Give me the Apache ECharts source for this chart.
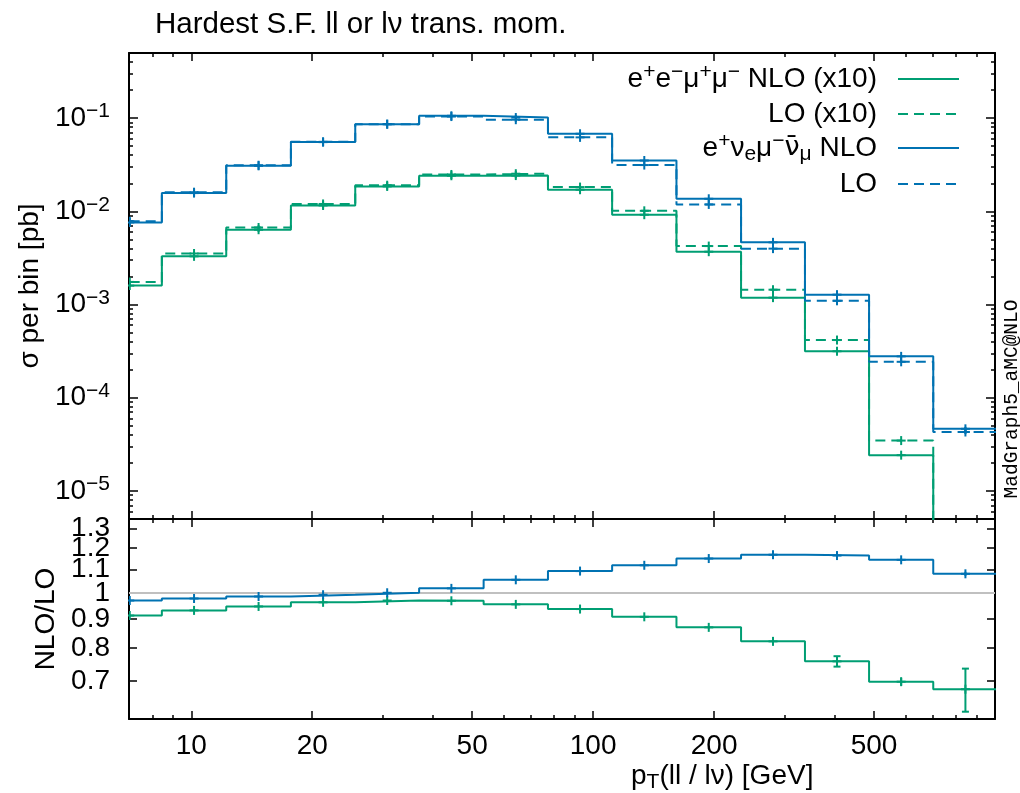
<!DOCTYPE html>
<html>
<head>
<meta charset="utf-8">
<title>Hardest S.F. ll or lν trans. mom.</title>
<script src="https://cdn.jsdelivr.net/npm/echarts@6/dist/echarts.min.js"></script>
<style>
  html, body { margin: 0; padding: 0; background: #fff; }
  #chart { width: 1020px; height: 793px; }
</style>
</head>
<body>
<div id="chart"></div>
<script>
// pT bin edges [GeV]
const binEdges = [5.85, 8.45, 12.22, 17.70, 25.59, 36.90, 53.4, 77.2, 111.5, 161.2, 233.4, 336.6, 486, 702, 1015];

// e+e-mu+mu- (x10), sigma per bin [pb]
const eemmNLO = [1.596e-3, 3.29e-3, 6.35e-3, 0.01156, 0.0185, 0.0241, 0.0242, 0.01706, 9.2e-3, 3.69e-3, 1.186e-3, 3.155e-4, 2.42e-5, 3.0e-6];
const eemmLO  = [1.749e-3, 3.53e-3, 6.71e-3, 0.0120, 0.01907, 0.02487, 0.02534, 0.01821, 0.01013, 4.24e-3, 1.443e-3, 4.16e-4, 3.47e-5, 4.43e-6];
// e+ ve mu- vm~, sigma per bin [pb]
const evmvNLO = [7.6e-3, 0.0157, 0.0308, 0.0553, 0.0862, 0.106, 0.1015, 0.068, 0.0351, 0.01364, 4.65e-3, 1.277e-3, 2.78e-4, 4.64e-5];
const evmvLO  = [7.84e-3, 0.01605, 0.03124, 0.0557, 0.0861, 0.1040, 0.0962, 0.0622, 0.03137, 0.01186, 3.98e-3, 1.097e-3, 2.43e-4, 4.29e-5];
// relative stat. errors in the upper panel
const relErr = [0.01, 0.008, 0.006, 0.005, 0.005, 0.005, 0.005, 0.006, 0.008, 0.01, 0.015, 0.02, 0.03, 0.05];

// NLO/LO
const eemmRatio = [0.9126, 0.932, 0.947, 0.963, 0.970, 0.969, 0.955, 0.937, 0.908, 0.870, 0.822, 0.758, 0.698, 0.677];
const evmvRatio = [0.970, 0.978, 0.986, 0.993, 1.001, 1.019, 1.055, 1.093, 1.119, 1.150, 1.168, 1.164, 1.144, 1.081];
const eemmRatioErr = [0.002, 0.002, 0.002, 0.002, 0.002, 0.002, 0.002, 0.002, 0.002, 0.003, 0.005, 0.016, 0.011, 0.059];
const evmvRatioErr = [0.002, 0.002, 0.002, 0.002, 0.002, 0.002, 0.002, 0.002, 0.003, 0.003, 0.003, 0.004, 0.006, 0.009];

// ticks
const xMajorTicks = [10, 20, 50, 100, 200, 500];
const xMinorTicks = [7, 8, 9, 30, 40, 60, 70, 80, 90, 300, 400, 600, 700, 800, 900];
const yMajorTicks = [1e-5, 1e-4, 1e-3, 1e-2, 1e-1];
const ratioTicks = [0.7, 0.8, 0.9, 1, 1.1, 1.2, 1.3];
// ratio labels are split over two axes so none of them gets dropped for overlapping
const ratioLabelsA = [0.7, 0.9, 1.1, 1.3];
const ratioLabelsB = [0.8, 1, 1.2];

const yMinorTicks = [];
for (let e = -6; e <= -1; e++) {
    for (let m = 2; m <= 9; m++) {
        const v = m * Math.pow(10, e);
        if (v >= 5e-6 && v <= 0.5) yMinorTicks.push(v);
    }
}

const GREEN = '#009e73';
const BLUE = '#0072b2';
const FONT = '"Liberation Sans", Arial, sans-serif';

const rich = {
    n: { fontSize: 28, lineHeight: 34, fontFamily: FONT, color: '#000' },
    bar: { fontSize: 27, lineHeight: 34, fontFamily: '"DejaVu Sans", sans-serif', color: '#000' },
    sup: { fontSize: 21, lineHeight: 20, verticalAlign: 'top', fontFamily: FONT, color: '#000' },
    sub: { fontSize: 21, lineHeight: 20, verticalAlign: 'bottom', fontFamily: FONT, color: '#000' },
    gap: { width: 16, lineHeight: 34 }
};

const legendText = {
    'eemm NLO': '{n|e}{sup|+}{n|e}{sup|−}{n|μ}{sup|+}{n|μ}{sup|−}{n| NLO (x10)}{gap|}',
    'eemm LO': '{n|LO (x10)}{gap|}',
    'evmv NLO': '{n|e}{sup|+}{n|ν}{sub|e}{n|μ}{sup|−}{bar|ν̄}{sub|μ}{n| NLO}{gap|}',
    'evmv LO': '{n|LO}{gap|}'
};
const legendRows = [
    { name: 'eemm NLO', y: 79 },
    { name: 'eemm LO', y: 117 },
    { name: 'evmv NLO', y: 148 },
    { name: 'evmv LO', y: 187 }
];

const centers = binEdges.slice(0, -1).map((e, i) => Math.sqrt(e * binEdges[i + 1]));

function stepData(values) {
    const pts = values.map((v, i) => [binEdges[i], v]);
    pts.push([binEdges[binEdges.length - 1], values[values.length - 1]]);
    return pts;
}

function stepLine(name, values, color, dashed, xi, yi) {
    return {
        name: name, type: 'line', xAxisIndex: xi, yAxisIndex: yi,
        step: 'end', data: stepData(values), symbol: 'none', clip: true,
        lineStyle: { color: color, width: 2, type: dashed ? [10, 6] : 'solid' },
        itemStyle: { color: color }, z: 3, silent: true
    };
}

function errSeries(name, values, lows, highs, color, xi, yi) {
    return {
        name: name, type: 'custom', xAxisIndex: xi, yAxisIndex: yi, clip: true,
        encode: { x: 0, y: [1, 2, 3] },
        data: centers.map((c, i) => [c, values[i], lows[i], highs[i]]),
        z: 4, silent: true,
        renderItem: function (params, api) {
            const p = api.coord([api.value(0), api.value(1)]);
            const lo = api.coord([api.value(0), api.value(2)]);
            const hi = api.coord([api.value(0), api.value(3)]);
            const st = { stroke: color, lineWidth: 2 };
            const children = [
                { type: 'line', shape: { x1: p[0], y1: hi[1], x2: p[0], y2: lo[1] }, style: st },
                { type: 'line', shape: { x1: p[0] - 4.5, y1: p[1], x2: p[0] + 4.5, y2: p[1] }, style: st },
                { type: 'line', shape: { x1: p[0], y1: p[1] - 4.5, x2: p[0], y2: p[1] + 4.5 }, style: st }
            ];
            if (lo[1] - hi[1] > 10) {
                children.push({ type: 'line', shape: { x1: p[0] - 3.5, y1: hi[1], x2: p[0] + 3.5, y2: hi[1] }, style: st });
                children.push({ type: 'line', shape: { x1: p[0] - 3.5, y1: lo[1], x2: p[0] + 3.5, y2: lo[1] }, style: st });
            }
            return { type: 'group', children: children };
        }
    };
}

function relBand(values, sign) {
    return values.map((v, i) => v * (1 + sign * relErr[i]));
}
function absBand(values, errs, sign) {
    return values.map((v, i) => v + sign * errs[i]);
}

// one axis per border side and tick size
function xAxisDef(gridIndex, position, ticks, len, showLine, withLabels) {
    return {
        type: 'log', logBase: 10, gridIndex: gridIndex, position: position, min: 7, max: 1000,
        axisLine: { show: showLine, onZero: false, lineStyle: { color: '#000', width: 2 } },
        axisTick: { show: true, inside: true, length: len, customValues: ticks, lineStyle: { color: '#000', width: 1.5 } },
        axisLabel: withLabels ? {
            show: true, customValues: xMajorTicks, margin: 13, hideOverlap: false,
            fontFamily: FONT, fontSize: 28, color: '#000',
            formatter: v => String(Math.round(v))
        } : { show: false },
        splitLine: { show: false }, minorTick: { show: false }
    };
}

function yAxisDef(gridIndex, position, ticks, len, showLine, labelFn, labelTicks, extra) {
    const ax = {
        type: 'log', logBase: 10, gridIndex: gridIndex, position: position,
        axisLine: { show: showLine, onZero: false, lineStyle: { color: '#000', width: 2 } },
        axisTick: ticks ? { show: true, inside: true, length: len, customValues: ticks, lineStyle: { color: '#000', width: 1.5 } } : { show: false },
        axisLabel: labelFn ? {
            show: true, customValues: labelTicks, margin: 19, hideOverlap: false,
            showMinLabel: true, showMaxLabel: true,
            fontFamily: FONT, fontSize: 28, color: '#000', rich: rich,
            formatter: labelFn
        } : { show: false },
        splitLine: { show: false }, minorTick: { show: false }
    };
    return Object.assign(ax, extra);
}

const upperY = { min: 5e-6, max: 0.5 };
const ratioY = { min: 0.6, max: 1.35 };

const powLabel = v => '{n|10}{sup|' + String(Math.round(Math.log10(v))).replace('-', '−') + '}';
const ratioLabel = v => '{n|' + String(Number(v.toFixed(2))) + '}';

const chart = echarts.init(document.getElementById('chart'), null, { renderer: 'canvas' });

const option = {
    animation: false,
    backgroundColor: '#fff',
    title: [
        {
            text: 'Hardest S.F. ll or lν trans. mom.', left: 155, top: 10, padding: 0,
            textStyle: { fontFamily: FONT, fontSize: 29.5, fontWeight: 'normal', color: '#000' }
        },
        {
            text: '{n|p}{sub|T}{n|(ll / lν) [GeV]}', left: 631, top: 759, padding: 0,
            textStyle: { fontFamily: FONT, fontSize: 28, fontWeight: 'normal', color: '#000', rich: rich }
        }
    ],
    grid: [
        { left: 129, right: 25, top: 53, height: 466, containLabel: false, outerBoundsMode: 'none' },
        { left: 129, right: 25, top: 519, height: 200, containLabel: false, outerBoundsMode: 'none' }
    ],
    legend: legendRows.map(r => ({
        data: [r.name], right: 60, top: r.y - 17, align: 'right', orient: 'vertical',
        itemWidth: 61, itemHeight: 14, selectedMode: false, padding: 0,
        formatter: n => legendText[n],
        itemStyle: { opacity: 0 },
        textStyle: { fontFamily: FONT, fontSize: 28, color: '#000', rich: rich }
    })),
    xAxis: [
        xAxisDef(0, 'bottom', xMajorTicks, 8, true, false),
        xAxisDef(0, 'bottom', xMinorTicks, 4, false, false),
        xAxisDef(0, 'top', xMajorTicks, 8, true, false),
        xAxisDef(0, 'top', xMinorTicks, 4, false, false),
        xAxisDef(1, 'bottom', xMajorTicks, 8, true, true),
        xAxisDef(1, 'bottom', xMinorTicks, 4, false, false),
        xAxisDef(1, 'top', xMajorTicks, 8, true, false),
        xAxisDef(1, 'top', xMinorTicks, 4, false, false)
    ],
    yAxis: [
        yAxisDef(0, 'left', yMajorTicks, 9, true, powLabel, yMajorTicks, Object.assign({
            name: 'σ per bin [pb]', nameLocation: 'middle', nameRotate: 90, nameGap: 82,
            nameTextStyle: { fontFamily: FONT, fontSize: 28, color: '#000' }
        }, upperY)),
        yAxisDef(0, 'left', yMinorTicks, 4, false, null, null, upperY),
        yAxisDef(0, 'right', yMajorTicks, 9, true, null, null, upperY),
        yAxisDef(0, 'right', yMinorTicks, 4, false, null, null, upperY),
        yAxisDef(1, 'left', ratioTicks, 8, true, ratioLabel, ratioLabelsA, Object.assign({
            name: 'NLO/LO', nameLocation: 'middle', nameRotate: 90, nameGap: 68,
            nameTextStyle: { fontFamily: FONT, fontSize: 28, color: '#000' }
        }, ratioY)),
        yAxisDef(1, 'right', ratioTicks, 8, true, null, null, ratioY),
        yAxisDef(1, 'left', null, 0, false, ratioLabel, ratioLabelsB, ratioY)
    ],
    series: [
        // upper panel
        stepLine('eemm NLO', eemmNLO, GREEN, false, 0, 0),
        stepLine('eemm LO', eemmLO, GREEN, true, 0, 0),
        stepLine('evmv NLO', evmvNLO, BLUE, false, 0, 0),
        stepLine('evmv LO', evmvLO, BLUE, true, 0, 0),
        errSeries('eemm NLO err', eemmNLO, relBand(eemmNLO, -1), relBand(eemmNLO, 1), GREEN, 0, 0),
        errSeries('eemm LO err', eemmLO, relBand(eemmLO, -1), relBand(eemmLO, 1), GREEN, 0, 0),
        errSeries('evmv NLO err', evmvNLO, relBand(evmvNLO, -1), relBand(evmvNLO, 1), BLUE, 0, 0),
        errSeries('evmv LO err', evmvLO, relBand(evmvLO, -1), relBand(evmvLO, 1), BLUE, 0, 0),
        // ratio panel
        {
            name: 'unity', type: 'line', xAxisIndex: 4, yAxisIndex: 4,
            data: [[7, 1], [1000, 1]], symbol: 'none', silent: true, z: 1,
            lineStyle: { color: '#c0c0c0', width: 2 }
        },
        stepLine('eemm ratio', eemmRatio, GREEN, false, 4, 4),
        stepLine('evmv ratio', evmvRatio, BLUE, false, 4, 4),
        errSeries('eemm ratio err', eemmRatio, absBand(eemmRatio, eemmRatioErr, -1), absBand(eemmRatio, eemmRatioErr, 1), GREEN, 4, 4),
        errSeries('evmv ratio err', evmvRatio, absBand(evmvRatio, evmvRatioErr, -1), absBand(evmvRatio, evmvRatioErr, 1), BLUE, 4, 4)
    ],
    graphic: [
        {
            type: 'text', x: 1012, y: 399, rotation: Math.PI / 2,
            style: {
                text: 'MadGraph5_aMC@NLO', fill: '#000',
                font: '19.5px "Liberation Mono", "DejaVu Sans Mono", monospace',
                align: 'center', verticalAlign: 'middle'
            }
        }
    ]
};

chart.setOption(option);
window.addEventListener('resize', () => chart.resize());
</script>
</body>
</html>
